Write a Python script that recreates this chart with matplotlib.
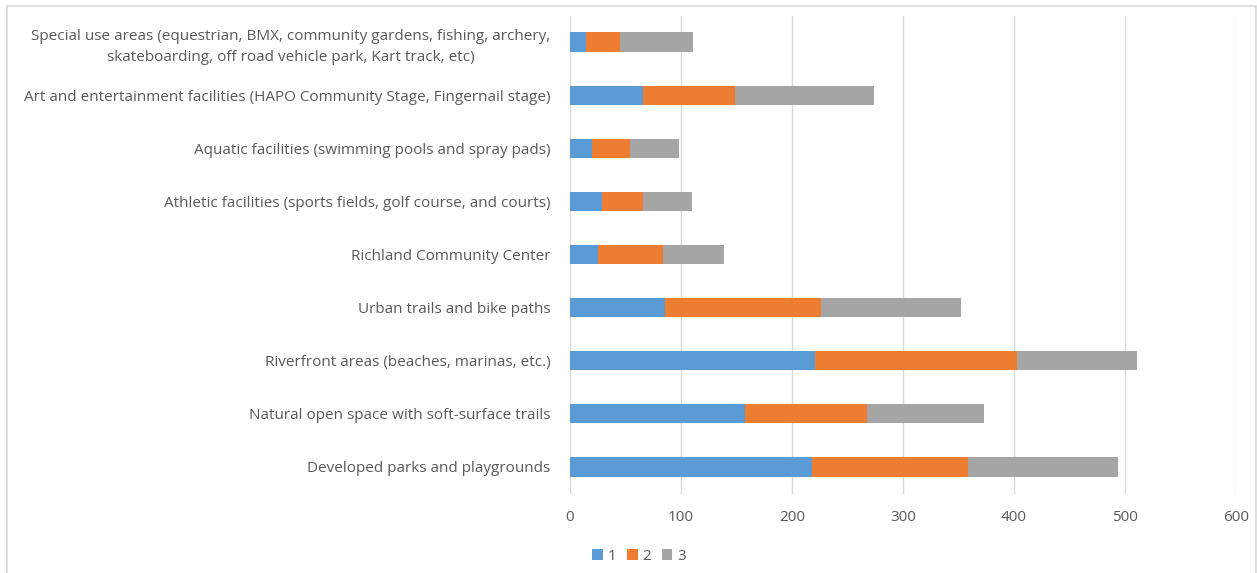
import matplotlib
matplotlib.use("Agg")
import matplotlib.pyplot as plt
from matplotlib.patches import Rectangle

plt.rcParams['font.family'] = ['Open Sans', 'DejaVu Sans']

# ----資料-----
categories = [
    'Developed parks and playgrounds',
    'Natural open space with soft-surface trails',
    'Riverfront areas (beaches, marinas, etc.)',
    'Urban trails and bike paths',
    'Richland Community Center',
    'Athletic facilities (sports fields, golf course, and courts)',
    'Aquatic facilities (swimming pools and spray pads)',
    'Art and entertainment facilities (HAPO Community Stage, Fingernail stage)',
    'Special use areas (equestrian, BMX, community gardens, fishing, archery,\n'
    'skateboarding, off road vehicle park, Kart track, etc)',
]
rank1 = [218, 158, 221, 86, 25, 29, 20, 66, 14]
rank2 = [141, 110, 182, 140, 59, 37, 34, 83, 31]
rank3 = [135, 105, 108, 126, 55, 44, 44, 125, 66]
series_names = ['1', '2', '3']
colors = ['#5B9BD5', '#ED7D31', '#A5A5A5']
ticks = [0, 100, 200, 300, 400, 500, 600]

fig = plt.figure(figsize=(12.57, 5.73), dpi=100)
ax = fig.add_axes([570 / 1257, 1 - 493.5 / 573, 666 / 1257, 478 / 573])

y = list(range(len(categories)))
left = [0] * len(categories)
for vals, name, c in zip([rank1, rank2, rank3], series_names, colors):
    ax.barh(y, vals, left=left, height=0.36, color=c, label=name, zorder=3)
    left = [l + v for l, v in zip(left, vals)]

ax.set_xlim(0, 600)
ax.set_ylim(-0.5, len(categories) - 0.5)
ax.set_xticks(ticks)
ax.set_yticks(y)
ax.set_yticklabels(categories)
for lab in ax.get_yticklabels():
    lab.set_multialignment('center')
    lab.set_linespacing(1.55)
ax.tick_params(axis='both', length=0, labelsize=11, labelcolor='#595959')
ax.tick_params(axis='x', pad=12)
ax.tick_params(axis='y', pad=14)
ax.grid(True, axis='x', color='#D9D9D9', linewidth=1, zorder=0)
for s in ax.spines.values():
    s.set_visible(False)

leg = fig.legend(loc='center', bbox_to_anchor=(639 / 1257, 1 - 556 / 573), ncol=3,
                 frameon=False, fontsize=11, handlelength=0.7, handleheight=0.7,
                 handletextpad=0.3, columnspacing=0.7)
for t in leg.get_texts():
    t.set_color('#595959')

fig.patches.append(Rectangle((7 / 1257, -0.01), 1249 / 1257, 1 - 6 / 573 + 0.01,
                             transform=fig.transFigure, fill=False,
                             edgecolor='#D9D9D9', linewidth=1.2))

fig.savefig('out.png', dpi=100, facecolor='white')
